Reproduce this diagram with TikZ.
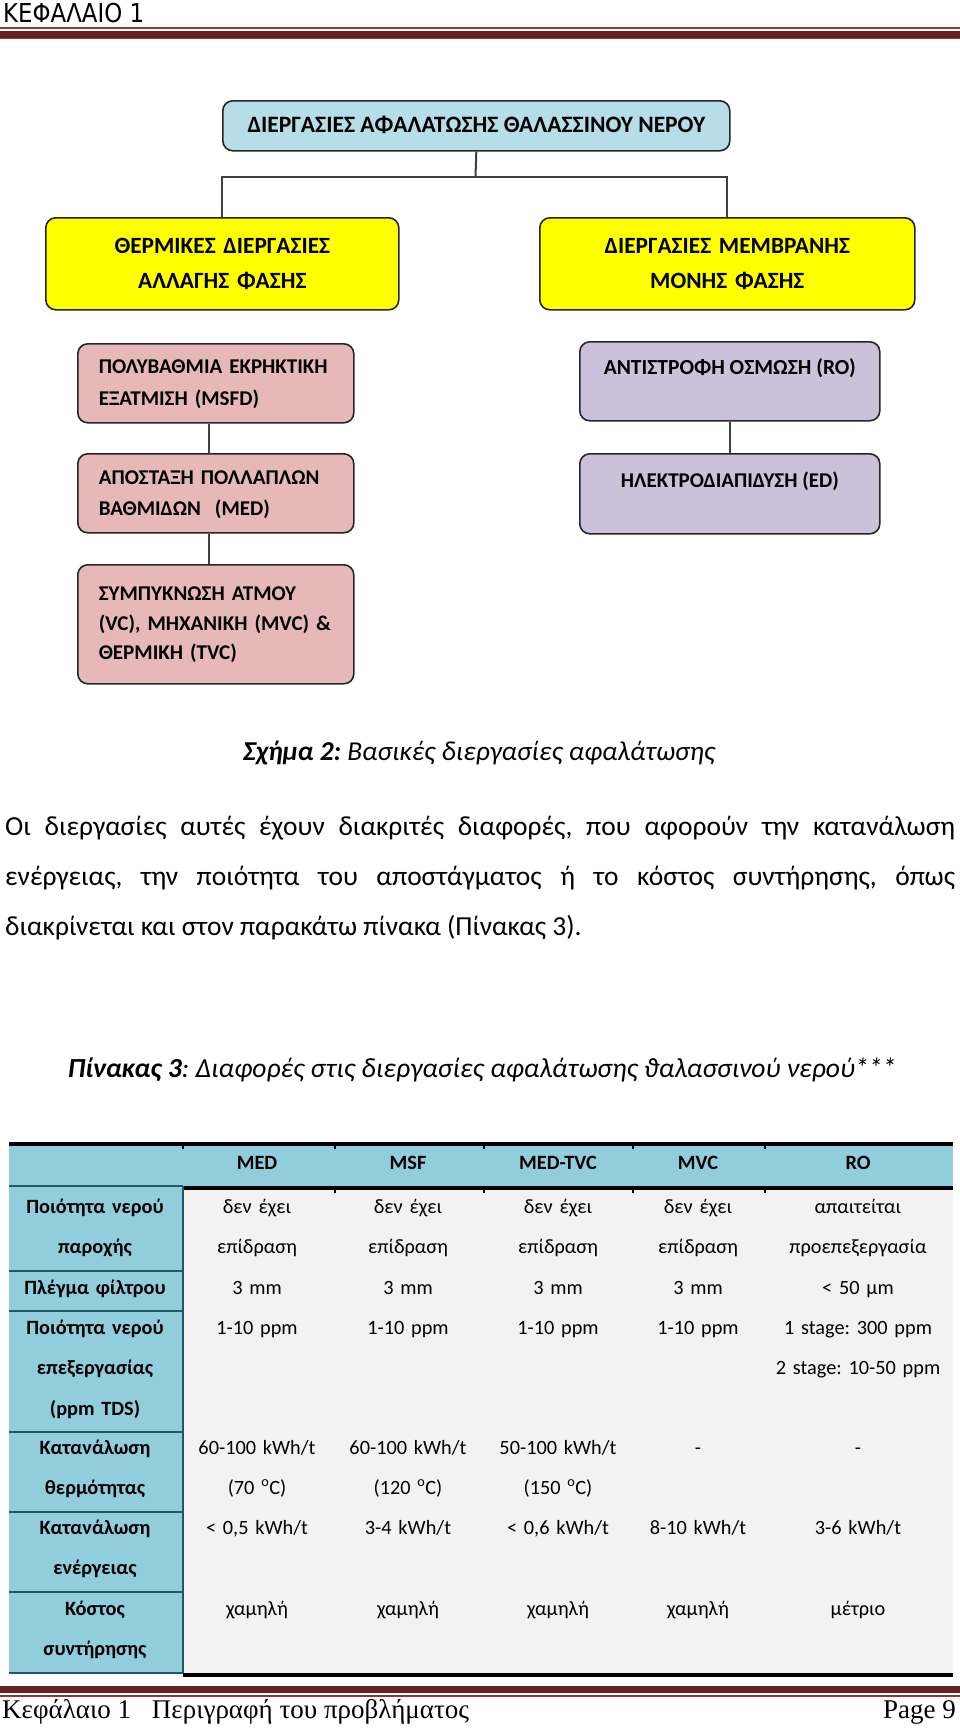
\documentclass[tikz,border=0pt]{standalone}
\usepackage{fontspec}
\setmainfont{Carlito}
\newfontfamily\hdrfont[FakeStretch=0.88]{DejaVu Sans}
\newfontfamily\ftrfont{Liberation Serif}
\usetikzlibrary{positioning}
\definecolor{topblue}{HTML}{B7DDE8}
\definecolor{boxyellow}{HTML}{FFFF00}
\definecolor{boxpink}{HTML}{E6B9B8}
\definecolor{boxlilac}{HTML}{CCC1DA}
\definecolor{tblblue}{HTML}{92CDDC}
\definecolor{tblgray}{HTML}{F2F2F2}
\definecolor{tblline}{HTML}{215968}
\definecolor{rulered}{HTML}{622423}
\definecolor{rulelight}{HTML}{943634}
\frenchspacing
\tikzset{
procbox/.style={draw=black!85, line width=1.6pt, rounded corners=10pt, anchor=north west,
  inner sep=0pt, font=\bfseries\fontsize{21}{32}\selectfont,
  execute at begin node=\strut, execute at end node=\strut},
conn/.style={draw=black!75, line width=2pt},
cell/.style={anchor=base, text width=180pt, align=center, inner sep=0pt,
  font=\fontsize{20.3}{40.5}\selectfont},
colhead/.style={cell, font=\bfseries\fontsize{20.3}{40.5}\selectfont},
rowhead/.style={cell, text width=172pt, font=\bfseries\fontsize{20.3}{40.5}\selectfont},
bodytext/.style={inner sep=0pt, font=\fontsize{27.5}{50}\selectfont}
}
\begin{document}
\begin{tikzpicture}[x=1pt,y=-1pt]
\useasboundingbox (0,0) rectangle (960,1729);

\node[anchor=base west, inner sep=0pt, font=\hdrfont\fontsize{26}{26}\selectfont] (chap) at (3,22) {ΚΕΦΑΛΑΙΟ 1};
\fill[rulelight] (0,27) rectangle (960,28.5);
\fill[rulered] (0,31) rectangle (960,37.5);
\fill[rulelight] (0,38) rectangle (960,39);

\node[procbox, fill=topblue, minimum width=507pt, minimum height=50pt,
  font=\bfseries\fontsize{23.5}{32}\selectfont] (root) at (222,100) {ΔΙΕΡΓΑΣΙΕΣ ΑΦΑΛΑΤΩΣΗΣ ΘΑΛΑΣΣΙΝΟΥ ΝΕΡΟΥ};
\node[procbox, fill=boxyellow, minimum width=353pt, minimum height=92pt, text width=353pt,
  align=center, text height=19pt, text depth=40pt,
  font=\bfseries\fontsize{23.3}{35}\selectfont] (thermal) at (45,217) {ΘΕΡΜΙΚΕΣ ΔΙΕΡΓΑΣΙΕΣ\\ΑΛΛΑΓΗΣ ΦΑΣΗΣ};
\node[procbox, fill=boxyellow, minimum width=375pt, minimum height=92pt, text width=375pt,
  align=center, text height=19pt, text depth=40pt,
  font=\bfseries\fontsize{23.3}{35}\selectfont] (membrane) at (539,217) {ΔΙΕΡΓΑΣΙΕΣ ΜΕΜΒΡΑΝΗΣ\\ΜΟΝΗΣ ΦΑΣΗΣ};

\node[procbox, fill=boxpink, minimum width=276pt, minimum height=79pt, text width=234pt,
  inner xsep=21pt, align=left] (msf) at (77,343) {ΠΟΛΥΒΑΘΜΙΑ ΕΚΡΗΚΤΙΚΗ\\ΕΞΑΤΜΙΣΗ (MSFD)};
\node[procbox, fill=boxpink, minimum width=276pt, minimum height=79pt, text width=234pt,
  inner xsep=21pt, align=left, font=\bfseries\fontsize{21}{31}\selectfont] (med) at (77,453) {ΑΠΟΣΤΑΞΗ ΠΟΛΛΑΠΛΩΝ\\ΒΑΘΜΙΔΩΝ~~(MED)};
\node[procbox, fill=boxpink, minimum width=276pt, minimum height=119pt, text width=234pt,
  inner xsep=21pt, align=left, font=\bfseries\fontsize{21}{29.5}\selectfont] (vc) at (77,564) {ΣΥΜΠΥΚΝΩΣΗ ΑΤΜΟΥ\\(VC), ΜΗΧΑΝΙΚΗ (MVC) \&\\ΘΕΡΜΙΚΗ (TVC)};

\node[procbox, fill=boxlilac, minimum width=300pt, minimum height=79pt, text height=16pt,
  text depth=29pt, font=\bfseries\fontsize{21.5}{32}\selectfont] (ro) at (579,341) {ΑΝΤΙΣΤΡΟΦΗ ΟΣΜΩΣΗ (RO)};
\node[procbox, fill=boxlilac, minimum width=300pt, minimum height=80pt, text height=16pt,
  text depth=29pt] (ed) at (579,453) {ΗΛΕΚΤΡΟΔΙΑΠΙΔΥΣΗ (ED)};

\coordinate (split) at (475.5,177);
\draw[conn] (root.south) -- (split);
\draw[conn] (split) -| (thermal.north);
\draw[conn] (split) -| (membrane.north);
\draw[conn] ([xshift=-7pt]msf.south) -- ([xshift=-7pt]med.north);
\draw[conn] ([xshift=-7pt]med.south) -- ([xshift=-7pt]vc.north);
\draw[conn] (ro.south) -- (ed.north);

\node[anchor=base, inner sep=0pt, font=\itshape\fontsize{27.3}{30}\selectfont] (figcap) at (479,760) {\textbf{Σχήμα 2:} Βασικές διεργασίες αφαλάτωσης};

\node[bodytext, anchor=base west, text width=950pt, align=justify] (para) at (5,835) {\hyphenpenalty=10000 Οι διεργασίες αυτές έχουν διακριτές διαφορές, που αφορούν την κατανάλωση\linebreak ενέργειας, την ποιότητα του αποστάγματος ή το κόστος συντήρησης, όπως\linebreak διακρίνεται και στον παρακάτω πίνακα (Πίνακας 3).};

\node[anchor=base, inner sep=0pt, font=\itshape\fontsize{27.6}{30}\selectfont] (tabcap) at (482,1077) {\textbf{Πίνακας 3}: Διαφορές στις διεργασίες αφαλάτωσης ϑαλασσινού νερού***};

\fill[tblblue] (9,1146) rectangle (953,1186);
\fill[tblblue] (9,1186) rectangle (183,1673);
\fill[tblgray] (183,1190) rectangle (953,1673);
\draw[line width=4pt] (9,1144) -- (953,1144);
\draw[line width=4pt] (183,1188) -- (953,1188);
\draw[line width=4pt] (183,1675) -- (953,1675);
\foreach \x in {183,335,484,633,765} {
  \draw[line width=1.5pt] (\x,1146) -- (\x,1149);
  \draw[line width=1.5pt] (\x,1190) -- (\x,1193);
}
\foreach \y in {1186,1271,1311,1432,1512,1592,1673}
  \draw[tblline, line width=1.5pt] (9,\y) -- (183,\y);
\draw[tblline, line width=1.5pt] (183,1186) -- (183,1673);

\foreach \x/\t [count=\i] in {257/MED,408/MSF,558/MED-TVC,698/MVC,858/RO}
  \node[colhead] (h\i) at (\x,1169) {\t};

\node[rowhead] (r1) at (95,1213) {Ποιότητα νερού\\παροχής};
\node[rowhead] (r2) at (95,1294) {Πλέγμα φίλτρου};
\node[rowhead] (r3) at (95,1334) {Ποιότητα νερού\\επεξεργασίας\\(ppm TDS)};
\node[rowhead] (r4) at (95,1454) {Κατανάλωση\\θερμότητας};
\node[rowhead] (r5) at (95,1534) {Κατανάλωση\\ενέργειας};
\node[rowhead] (r6) at (95,1615) {Κόστος\\συντήρησης};

\foreach \x/\t [count=\i] in {257/{δεν έχει\\επίδραση},408/{δεν έχει\\επίδραση},558/{δεν έχει\\επίδραση},698/{δεν έχει\\επίδραση},858/{απαιτείται\\προεπεξεργασία}}
  \node[cell] (a\i) at (\x,1213) {\t};
\foreach \x/\t [count=\i] in {257/3 mm,408/3 mm,558/3 mm,698/3 mm,858/{< 50 μm}}
  \node[cell] (b\i) at (\x,1294) {\t};
\foreach \x/\t [count=\i] in {257/1-10 ppm,408/1-10 ppm,558/1-10 ppm,698/1-10 ppm,858/{1 stage: 300 ppm\\2 stage: 10-50 ppm}}
  \node[cell] (c\i) at (\x,1334) {\t};
\foreach \x/\t [count=\i] in {257/{60-100 kWh/t\\(70 \textsuperscript{o}C)},408/{60-100 kWh/t\\(120 \textsuperscript{o}C)},558/{50-100 kWh/t\\(150 \textsuperscript{o}C)},698/-,858/-}
  \node[cell] (d\i) at (\x,1454) {\t};
\foreach \x/\t [count=\i] in {257/{< 0,5 kWh/t},408/{3-4 kWh/t},558/{< 0,6 kWh/t},698/{8-10 kWh/t},858/{3-6 kWh/t}}
  \node[cell] (e\i) at (\x,1534) {\t};
\foreach \x/\t [count=\i] in {257/χαμηλή,408/χαμηλή,558/χαμηλή,698/χαμηλή,858/μέτριο}
  \node[cell] (f\i) at (\x,1615) {\t};

\fill[rulered] (0,1686) rectangle (960,1693);
\fill[rulelight] (0,1695) rectangle (960,1696.5);
\node[anchor=base west, inner sep=0pt, font=\ftrfont\fontsize{27}{30}\selectfont] (ftrl) at (2,1718) {Κεφάλαιο 1\hspace{21pt}Περιγραφή του προβλήματος};
\node[anchor=base east, inner sep=0pt, font=\ftrfont\fontsize{27}{30}\selectfont] (pgno) at (956,1718) {Page 9};
\end{tikzpicture}
\end{document}
